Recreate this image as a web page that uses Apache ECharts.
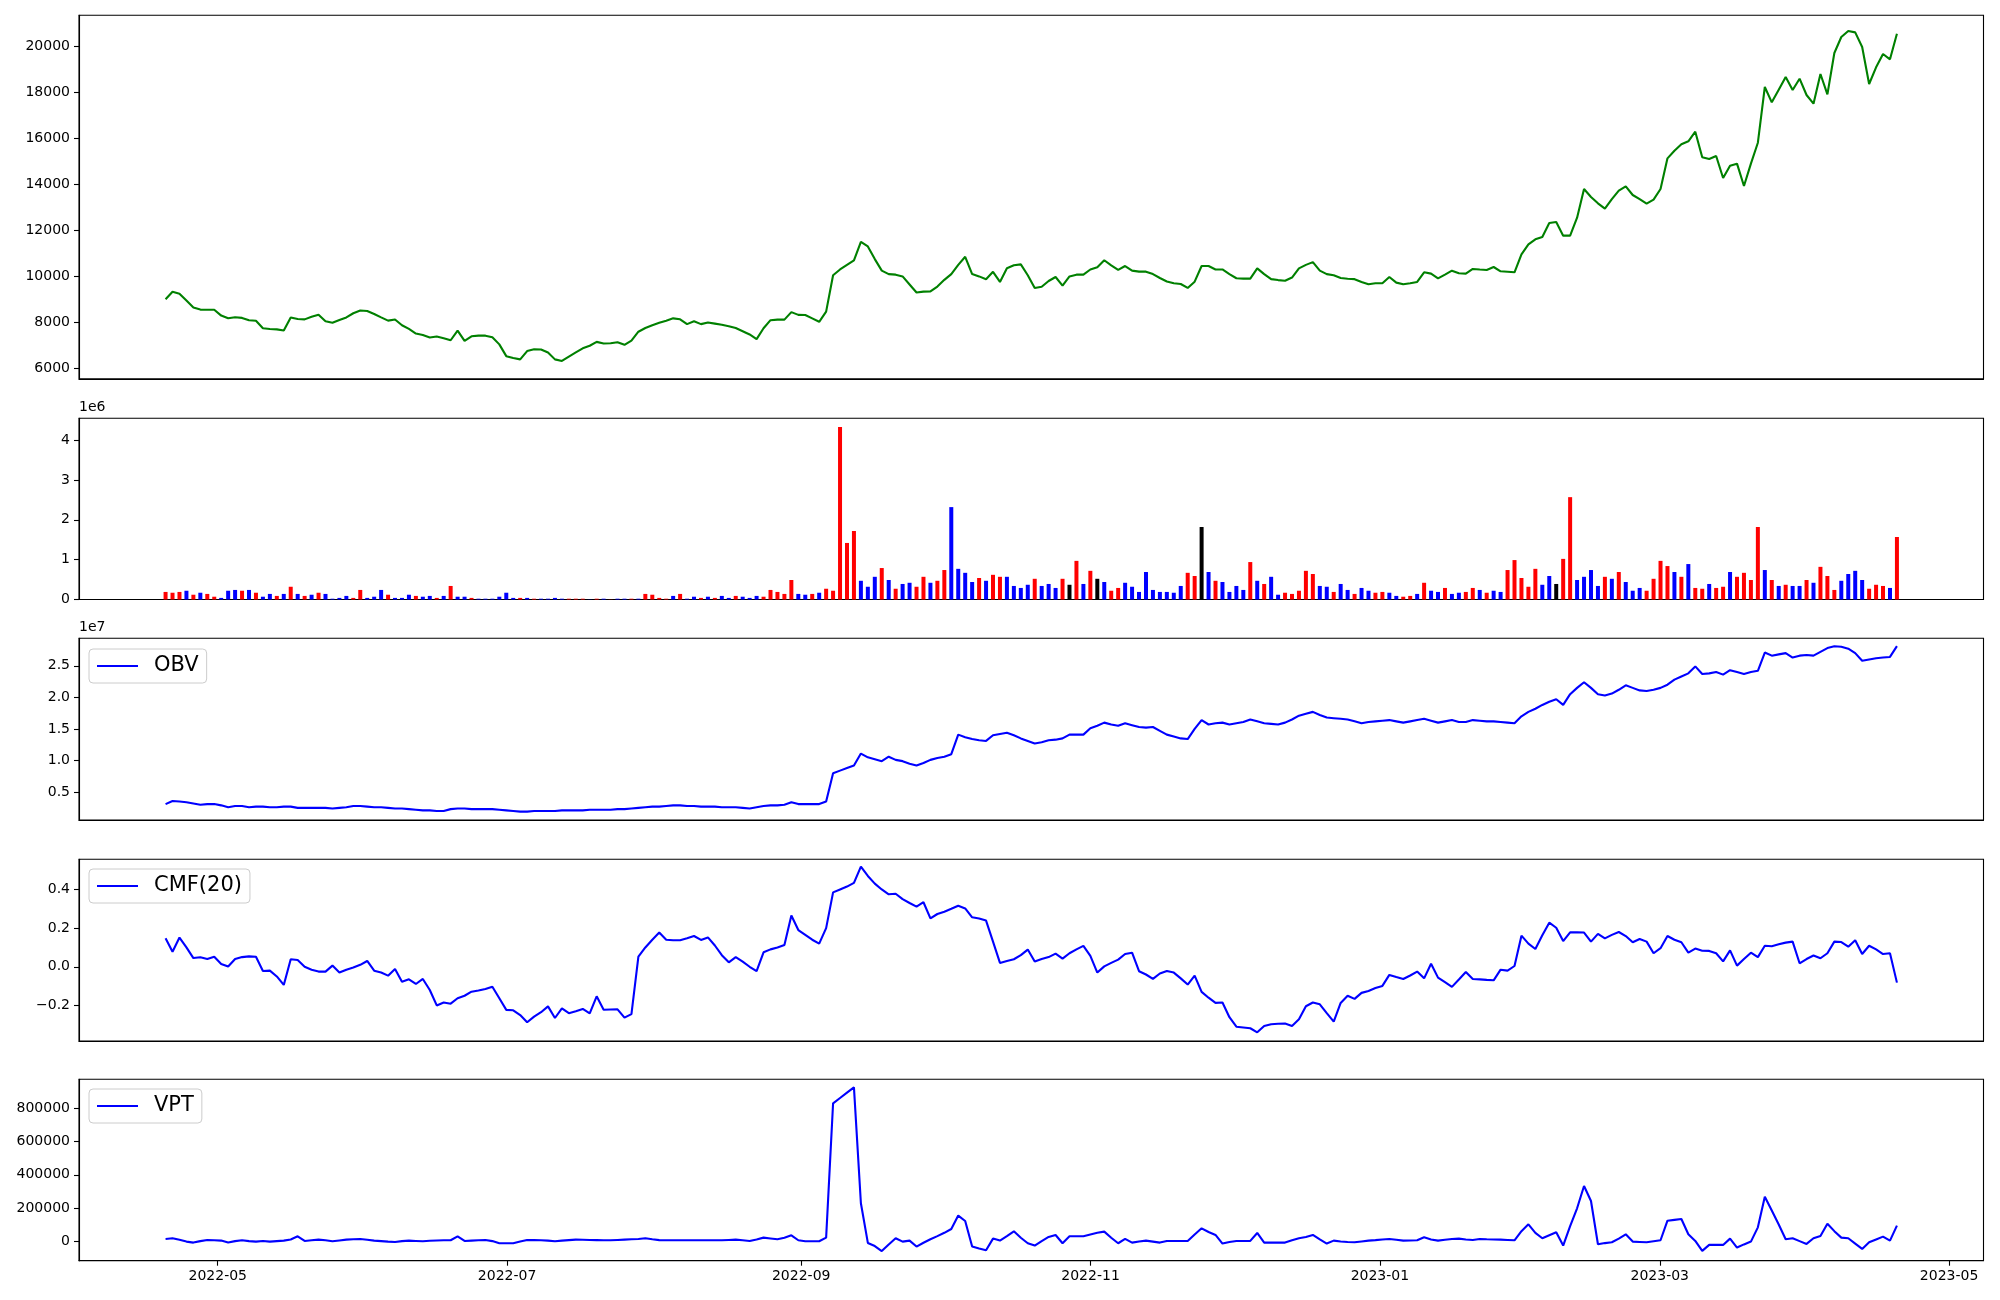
<!DOCTYPE html>
<html><head><meta charset="utf-8">
<script src="https://cdn.jsdelivr.net/npm/echarts@6/dist/echarts.min.js"></script>
<style>html,body{margin:0;padding:0;background:#fff}#c{width:2000px;height:1300px}</style>
</head><body><div id="c"></div>
<script>
// ---- data ----
const startDate = [2022, 4, 20];   // first sample
const endDate = [2023, 4, 20];     // last sample
const nPoints = 250;
const xTickLabels = ['2022-05','2022-07','2022-09','2022-11','2023-01','2023-03','2023-05'];

const price = [
9006,9330,9250,8950,8650,8560,8555,8550,8300,8181,
8230,8200,8100,8075,7750,7720,7700,7650,8220,8150,
8135,8250,8340,8051,7990,8110,8220,8400,8520,8500,
8370,8220,8080,8130,7880,7720,7520,7458,7350,7390,
7320,7230,7650,7200,7400,7429,7429,7360,7050,6540,
6460,6400,6760,6840,6830,6700,6400,6330,6520,6700,
6880,6990,7160,7090,7100,7140,7030,7213,7600,7760,
7880,7985,8080,8180,8140,7930,8051,7930,8000,7950,
7900,7840,7760,7620,7480,7280,7750,8100,8123,8123,
8450,8330,8326,8180,8030,8470,10050,10300,10500,10700,
11500,11300,10750,10250,10100,10076,10000,9650,9300,9338,
9350,9560,9850,10100,10500,10850,10100,10000,9880,10200,
9760,10350,10480,10520,10050,9500,9550,9800,9974,9598,
10000,10076,10076,10300,10400,10700,10480,10280,10450,10250,
10206,10206,10100,9930,9780,9700,9670,9500,9770,10450,
10450,10300,10300,10100,9920,9902,9902,10350,10100,9880,
9840,9810,9950,10350,10500,10620,10250,10100,10050,9930,
9900,9880,9760,9660,9700,9700,9974,9729,9656,9700,
9760,10177,10119,9917,10080,10249,10134,10119,10322,10300,
10280,10408,10220,10200,10177,10958,11391,11608,11710,12317,
12360,11767,11767,12548,13792,13445,13170,12939,13350,13720,
13908,13532,13350,13156,13329,13792,15122,15450,15730,15860,
16279,15166,15093,15224,14269,14804,14891,13922,14891,15800,
18217,17551,18100,18650,18087,18578,17870,17494,18781,17899,
19692,20386,20646,20588,19952,18347,19070,19648,19417,20530];

// volume in millions, direction: r = up, b = down, k = unchanged
const volumeM = [
0.19,0.17,0.19,0.22,0.12,0.17,0.14,0.07,0.04,0.22,
0.24,0.22,0.24,0.17,0.07,0.14,0.09,0.14,0.32,0.14,
0.09,0.12,0.17,0.14,0.02,0.04,0.09,0.04,0.24,0.04,
0.07,0.24,0.12,0.04,0.04,0.12,0.09,0.07,0.09,0.04,
0.09,0.34,0.07,0.07,0.04,0.02,0.02,0.02,0.07,0.17,
0.04,0.04,0.04,0.02,0.02,0.02,0.04,0.02,0.02,0.02,
0.02,0.005,0.02,0.02,0.005,0.02,0.02,0.02,0.02,0.14,
0.12,0.04,0.02,0.09,0.14,0.02,0.07,0.04,0.07,0.04,
0.09,0.04,0.09,0.07,0.04,0.09,0.07,0.24,0.19,0.14,
0.49,0.14,0.12,0.14,0.17,0.27,0.22,4.33,1.42,1.72,
0.47,0.32,0.57,0.79,0.49,0.27,0.39,0.42,0.32,0.57,
0.42,0.47,0.74,2.32,0.77,0.67,0.44,0.54,0.47,0.62,
0.57,0.57,0.34,0.29,0.37,0.52,0.34,0.39,0.29,0.52,
0.37,0.97,0.39,0.72,0.52,0.44,0.22,0.29,0.42,0.32,
0.19,0.69,0.24,0.19,0.19,0.17,0.34,0.67,0.59,1.82,
0.69,0.47,0.44,0.19,0.34,0.24,0.94,0.47,0.39,0.57,
0.12,0.17,0.14,0.22,0.72,0.64,0.34,0.32,0.19,0.39,
0.24,0.14,0.29,0.22,0.17,0.19,0.17,0.09,0.07,0.09,
0.14,0.42,0.22,0.19,0.29,0.14,0.17,0.19,0.29,0.24,
0.17,0.22,0.19,0.74,0.99,0.54,0.32,0.77,0.37,0.59,
0.39,1.02,2.57,0.49,0.57,0.74,0.34,0.57,0.52,0.69,
0.44,0.22,0.29,0.22,0.52,0.97,0.84,0.69,0.57,0.89,
0.29,0.27,0.39,0.29,0.32,0.69,0.57,0.67,0.49,1.82,
0.74,0.49,0.34,0.37,0.34,0.34,0.49,0.42,0.82,0.59,
0.24,0.47,0.64,0.72,0.49,0.27,0.37,0.34,0.29,1.57];
const volumeDir =
"rrrbrbrrbb"+"brbrbbrbrb"+"rbrbbbbrrb"+"bbrbbbrbbr"+"brbbrbbbbb"+
"brbrbbbbrr"+"rbrbrbbrbr"+"rrrbrbbrbr"+"bbrbbbrrrr"+"rbbrbrrrrr"+
"bbbrbrbbrr"+"brrbbbbrbr"+"rbbbbrbbbr"+"krbrkbrrbb"+"bbbbbbbrrk"+
"brbbbbrbrb"+"brrrrrbbrb"+"brbbrrbbrr"+"brbbrbbrrb"+"rbbrrrrrbb"+
"krrbbbbrbr"+"bbbrrrrbrb"+"rrbrrbrrrr"+"brbrbbrbrr"+"rbbbbrrrbr";

// OBV in units of 1e7
const obvE7 = [
0.31,0.36,0.35,0.34,0.32,0.30,0.31,0.31,0.29,0.26,
0.28,0.28,0.26,0.27,0.27,0.26,0.26,0.27,0.27,0.25,
0.25,0.25,0.25,0.25,0.24,0.25,0.26,0.28,0.28,0.27,
0.26,0.26,0.25,0.24,0.24,0.23,0.22,0.21,0.21,0.20,
0.20,0.23,0.24,0.24,0.23,0.23,0.23,0.23,0.22,0.21,
0.20,0.19,0.19,0.20,0.20,0.20,0.20,0.21,0.21,0.21,
0.21,0.22,0.22,0.22,0.22,0.23,0.23,0.24,0.25,0.26,
0.27,0.27,0.28,0.29,0.29,0.28,0.28,0.27,0.27,0.27,
0.26,0.26,0.26,0.25,0.24,0.26,0.28,0.29,0.29,0.30,
0.34,0.31,0.31,0.31,0.31,0.35,0.80,0.84,0.88,0.92,
1.11,1.05,1.02,0.99,1.06,1.01,0.99,0.95,0.92,0.96,
1.01,1.04,1.06,1.10,1.41,1.37,1.34,1.32,1.31,1.40,
1.42,1.44,1.40,1.35,1.31,1.27,1.29,1.32,1.33,1.35,
1.41,1.41,1.41,1.51,1.55,1.60,1.57,1.55,1.59,1.56,
1.53,1.52,1.53,1.47,1.41,1.38,1.35,1.34,1.50,1.64,
1.57,1.59,1.60,1.57,1.59,1.61,1.65,1.62,1.59,1.58,
1.57,1.60,1.65,1.71,1.74,1.77,1.72,1.68,1.67,1.66,
1.65,1.62,1.59,1.61,1.62,1.63,1.64,1.62,1.60,1.62,
1.64,1.66,1.63,1.60,1.62,1.64,1.61,1.61,1.64,1.63,
1.62,1.62,1.61,1.60,1.59,1.70,1.77,1.82,1.88,1.93,
1.97,1.88,2.05,2.15,2.24,2.15,2.05,2.03,2.06,2.12,
2.19,2.15,2.11,2.10,2.12,2.15,2.20,2.28,2.33,2.38,
2.49,2.37,2.38,2.40,2.36,2.43,2.40,2.37,2.40,2.42,
2.71,2.66,2.68,2.70,2.63,2.66,2.67,2.66,2.72,2.78,
2.81,2.80,2.77,2.70,2.58,2.60,2.62,2.63,2.64,2.81];

const cmf20 = [
0.147,0.078,0.151,0.10,0.045,0.049,0.040,0.052,0.014,0.001,
0.040,0.050,0.054,0.052,-0.022,-0.020,-0.050,-0.094,0.039,0.035,
0.000,-0.015,-0.025,-0.025,0.006,-0.030,-0.015,-0.004,0.010,0.030,
-0.020,-0.030,-0.046,-0.011,-0.077,-0.065,-0.089,-0.063,-0.120,-0.200,
-0.185,-0.191,-0.163,-0.150,-0.129,-0.123,-0.115,-0.103,-0.163,-0.223,
-0.225,-0.250,-0.287,-0.258,-0.235,-0.205,-0.265,-0.215,-0.240,-0.230,
-0.218,-0.241,-0.153,-0.222,-0.221,-0.220,-0.263,-0.245,0.052,0.100,
0.140,0.177,0.140,0.137,0.137,0.147,0.159,0.139,0.152,0.110,
0.060,0.023,0.050,0.027,0.000,-0.023,0.075,0.090,0.100,0.113,
0.265,0.190,0.165,0.140,0.120,0.200,0.385,0.400,0.415,0.434,
0.518,0.470,0.430,0.400,0.375,0.378,0.350,0.330,0.311,0.334,
0.250,0.273,0.285,0.300,0.316,0.302,0.256,0.250,0.239,0.130,
0.020,0.030,0.039,0.060,0.089,0.027,0.040,0.050,0.068,0.042,
0.070,0.090,0.108,0.056,-0.030,0.002,0.020,0.037,0.066,0.073,
-0.023,-0.040,-0.063,-0.035,-0.022,-0.030,-0.060,-0.092,-0.046,-0.130,
-0.160,-0.187,-0.185,-0.261,-0.310,-0.314,-0.318,-0.339,-0.306,-0.297,
-0.295,-0.294,-0.306,-0.272,-0.204,-0.185,-0.194,-0.240,-0.284,-0.187,
-0.150,-0.166,-0.135,-0.125,-0.110,-0.099,-0.042,-0.053,-0.063,-0.045,
-0.025,-0.060,0.016,-0.056,-0.080,-0.104,-0.066,-0.027,-0.063,-0.065,
-0.068,-0.070,-0.015,-0.020,0.004,0.161,0.120,0.092,0.163,0.228,
0.202,0.133,0.178,0.178,0.177,0.130,0.170,0.147,0.165,0.180,
0.159,0.127,0.144,0.130,0.070,0.096,0.159,0.140,0.127,0.073,
0.094,0.083,0.082,0.070,0.028,0.085,0.006,0.040,0.073,0.050,
0.109,0.106,0.116,0.125,0.130,0.018,0.040,0.058,0.044,0.070,
0.130,0.128,0.104,0.137,0.066,0.109,0.090,0.066,0.070,-0.082];

// VPT in thousands
const vptK = [
13,17,8,-3,-9,0,7,5,3,-9,
0,5,0,-3,1,-3,0,3,10,29,
1,5,9,5,-1,4,9,11,13,8,
3,0,-3,-5,0,3,1,-1,2,4,
5,5,29,1,3,5,7,0,-13,-13,
-13,-3,7,6,5,3,-1,3,6,9,
8,7,6,5,5,7,9,11,13,17,
11,6,5,5,5,5,5,5,5,5,
5,7,9,5,1,10,21,16,11,20,
35,5,-1,-1,-1,21,831,863,895,927,
228,-11,-30,-60,-20,17,-3,3,-33,-10,
11,30,50,73,154,121,-33,-45,-55,15,
3,30,59,20,-13,-27,0,25,37,-13,
29,29,29,40,50,57,20,-13,13,-9,
-2,3,-3,-9,1,1,1,1,40,77,
55,37,-15,-5,1,1,1,49,-9,-9,
-9,-9,5,17,25,37,10,-15,3,-2,
-5,-7,-2,3,6,10,13,8,3,4,
5,23,10,3,8,13,15,10,7,13,
11,10,9,7,5,60,101,50,17,35,
53,-27,90,198,332,242,-19,-12,-7,15,
41,-3,-5,-7,-1,5,123,128,133,41,
1,-59,-23,-23,-23,15,-39,-20,-3,83,
268,184,100,11,17,0,-17,17,31,105,
60,21,17,-15,-47,-7,10,27,3,93];

const priceTicks = [6000,8000,10000,12000,14000,16000,18000,20000];
const volTicksM = [0,1,2,3,4];
const obvTicksE7 = [0.5,1.0,1.5,2.0,2.5];
const cmfTicks = [-0.2,0,0.2,0.4];
const vptTicks = [0,200000,400000,600000,800000];

// ---- build ----
const t0 = new Date(startDate[0], startDate[1]-1, startDate[2]).getTime();
const t1 = new Date(endDate[0], endDate[1]-1, endDate[2]).getTime();
const step = (t1 - t0) / (nPoints - 1);
const dates = [];
for (let i = 0; i < nPoints; i++) dates.push(t0 + i * step);
const xMin = t0 - 0.05 * (t1 - t0), xMax = t1 + 0.05 * (t1 - t0);
const xTickTimes = xTickLabels.map(s => { const p = s.split('-'); return new Date(+p[0], +p[1]-1, 1).getTime(); });
const dirColor = {r:'#ff0000', b:'#0000ff', k:'#000000'};

const FONT = 'DejaVu Sans';
const grids = [
  {left:79, right:16.5, top:15.3, height:363.5},
  {left:79, right:16.5, top:418.3, height:181.2},
  {left:79, right:16.5, top:638.3, height:181.7},
  {left:79, right:16.5, top:859.3, height:181.7},
  {left:79, right:16.5, top:1079.3, height:181.4}
].map(g => Object.assign(g, {show:true, borderColor:'#000', borderWidth:1.1, backgroundColor:'#fff'}));

function xAxis(idx, showLabels) {
  return {
    type:'value', gridIndex:idx, min:xMin, max:xMax,
    axisLine:{show:true, onZero:false, lineStyle:{color:'#000', width:1.1}},
    splitLine:{show:false},
    axisTick:{show:showLabels, length:5, lineStyle:{color:'#000', width:1.1}, customValues: xTickTimes},
    axisLabel:{show:showLabels, customValues: xTickTimes, margin:9, color:'#000', fontFamily:FONT, fontSize:14,
      formatter: v => { const d = new Date(v); return d.getFullYear() + '-' + String(d.getMonth()+1).padStart(2,'0'); }}
  };
}
const minus = s => s.replace('-', '\u2212');
function yAxis(idx, min, max, ticks, fmt, name) {
  return {
    type:'value', gridIndex:idx, min:min, max:max,
    name: name || '', nameLocation:'end', nameGap:4,
    nameTextStyle:{align:'left', verticalAlign:'bottom', color:'#000', fontFamily:FONT, fontSize:14},
    axisLine:{show:true, onZero:false, lineStyle:{color:'#000', width:1.1}},
    splitLine:{show:false},
    axisTick:{show:true, length:5, lineStyle:{color:'#000', width:1.1}, customValues: ticks},
    axisLabel:{customValues: ticks, margin:9, color:'#000', fontFamily:FONT, fontSize:14, formatter: fmt}
  };
}

function legend(name, top) {
  return {
    data:[name], left:89, top:top, orient:'horizontal', selectedMode:false,
    icon:'rect', itemWidth:41, itemHeight:2.2,
    backgroundColor:'rgba(255,255,255,0.8)', borderColor:'#cccccc', borderWidth:1, borderRadius:4,
    padding:[5,8,5,8],
    textStyle:{color:'#000', fontFamily:FONT, fontSize:21, lineHeight:24, padding:[0,0,0,11]}
  };
}
function lineSeries(name, idx, color, data) {
  return {name:name, type:'line', xAxisIndex:idx, yAxisIndex:idx, showSymbol:false, symbol:'none',
    lineStyle:{color:color, width:2.1}, itemStyle:{color:color}, data:data};
}

const option = {
  animation:false,
  backgroundColor:'#fff',
  grid: grids,
  xAxis: [xAxis(0,false), xAxis(1,false), xAxis(2,false), xAxis(3,false), xAxis(4,true)],
  yAxis: [
    yAxis(0, 5557, 21328, priceTicks, v => String(v)),
    yAxis(1, 0, 4.55e6, volTicksM.map(v => v*1e6), v => String(Math.round(v/1e6)), '1e6'),
    yAxis(2, 0.058e7, 2.935e7, obvTicksE7.map(v => v*1e7), v => (v/1e7).toFixed(1), '1e7'),
    yAxis(3, -0.384, 0.556, cmfTicks, v => minus((Math.abs(v) < 1e-9 ? 0 : v).toFixed(1))),
    yAxis(4, -118200, 975700, vptTicks, v => String(v))
  ],
  legend: [legend('OBV', 649), legend('CMF(20)', 869), legend('VPT', 1089)],
  series: [
    lineSeries('Close', 0, '#008000', price.map((v,i) => [dates[i], v])),
    {name:'Volume', type:'bar', xAxisIndex:1, yAxisIndex:1, barWidth:4,
     data: volumeM.map((v,i) => ({value:[dates[i], v*1e6], itemStyle:{color: dirColor[volumeDir[i]]}}))},
    lineSeries('OBV', 2, '#0000ff', obvE7.map((v,i) => [dates[i], v*1e7])),
    lineSeries('CMF(20)', 3, '#0000ff', cmf20.map((v,i) => [dates[i], v])),
    lineSeries('VPT', 4, '#0000ff', vptK.map((v,i) => [dates[i], v*1000]))
  ]
};
const chart = echarts.init(document.getElementById('c'), null, {renderer:'canvas'});
chart.setOption(option);
</script>
</body></html>
